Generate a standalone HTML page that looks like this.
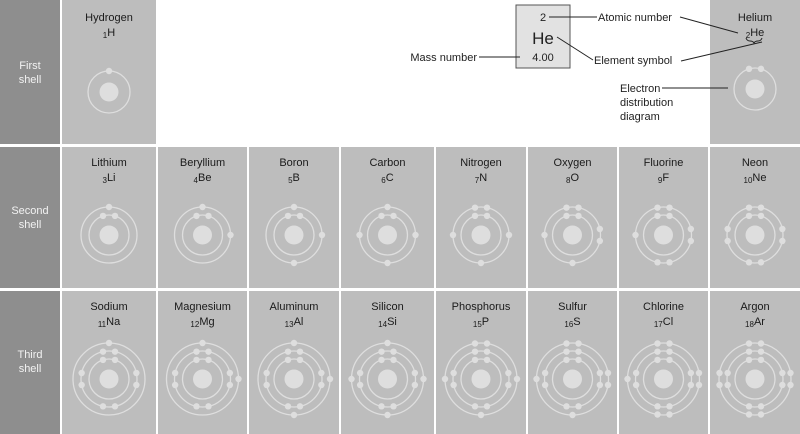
<!DOCTYPE html>
<html><head><meta charset="utf-8"><style>
html,body{margin:0;padding:0;background:#fff;}
svg{display:block;font-family:"Liberation Sans",sans-serif;}
</style></head><body>
<svg id="s" width="800" height="434" viewBox="0 0 800 434" xmlns="http://www.w3.org/2000/svg">
<rect x="0" y="0" width="800" height="434" fill="#fff"/>
<rect x="0" y="0" width="60" height="144" fill="#8e8e8e"/>
<rect x="0" y="147" width="60" height="141" fill="#8e8e8e"/>
<rect x="0" y="291" width="60" height="143" fill="#8e8e8e"/>
<g fill="#f2f2f2" font-size="11" text-anchor="middle">
<text x="30" y="69">First</text><text x="30" y="83">shell</text>
<text x="30" y="214">Second</text><text x="30" y="228">shell</text>
<text x="30" y="358">Third</text><text x="30" y="372">shell</text>
</g>
<g id="cells"></g>
<rect x="516" y="5" width="54" height="63" fill="#e2e2e2" stroke="#555" stroke-width="1"/>
<g fill="#222" text-anchor="middle">
<text x="543" y="21" font-size="11">2</text>
<text x="543" y="44" font-size="17">He</text>
<text x="543" y="61" font-size="11">4.00</text>
</g>
<g stroke="#222" stroke-width="1" fill="none">
<line x1="549" y1="17" x2="597" y2="17"/>
<line x1="680" y1="17" x2="738" y2="33"/>
<line x1="557" y1="37" x2="593" y2="60"/>
<line x1="681" y1="61" x2="762" y2="42"/>
<line x1="479" y1="57" x2="520" y2="57"/>
<line x1="662" y1="88" x2="728" y2="88"/>
<path d="M746 38 q1 3 4 3 q3 0 4 2 q1 -2 4 -2 q3 0 4 -3"/>
</g>
<g fill="#222" font-size="11">
<text x="598" y="21">Atomic number</text>
<text x="594" y="64">Element symbol</text>
<text x="477" y="61" text-anchor="end">Mass number</text>
<text x="620" y="92">Electron</text>
<text x="620" y="106">distribution</text>
<text x="620" y="120">diagram</text>
</g>
</svg>
<script>
var NS="http://www.w3.org/2000/svg",g=document.getElementById('cells');
function el(t,a,p){var e=document.createElementNS(NS,t);for(var k in a)e.setAttribute(k,a[k]);(p||g).appendChild(e);return e;}
var cols=[[62,156],[158,247],[249,339],[341,434],[436,526],[528,617],[619,708],[710,800]];
var rows=[[0,144],[147,288],[291,434]];
var data=[
[["Hydrogen","1","H",[1]],null,null,null,null,null,null,["Helium","2","He",[2]]],
[["Lithium","3","Li",[2,1]],["Beryllium","4","Be",[2,2]],["Boron","5","B",[2,3]],["Carbon","6","C",[2,4]],["Nitrogen","7","N",[2,5]],["Oxygen","8","O",[2,6]],["Fluorine","9","F",[2,7]],["Neon","10","Ne",[2,8]]],
[["Sodium","11","Na",[2,8,1]],["Magnesium","12","Mg",[2,8,2]],["Aluminum","13","Al",[2,8,3]],["Silicon","14","Si",[2,8,4]],["Phosphorus","15","P",[2,8,5]],["Sulfur","16","S",[2,8,6]],["Chlorine","17","Cl",[2,8,7]],["Argon","18","Ar",[2,8,8]]]];
var atomY=[92,235,379],nameY=[21,166,310];
var C="#dedede";
for(var r=0;r<3;r++)for(var c=0;c<8;c++){
 var d=data[r][c];if(!d)continue;
 var x0=cols[c][0],x1=cols[c][1],y0=rows[r][0],y1=rows[r][1];
 el('rect',{x:x0,y:y0,width:x1-x0,height:y1-y0,fill:"#bdbdbd"});
 var cx=(x0+x1)/2,cy=atomY[r];
 var t=el('text',{x:cx,y:nameY[r],'text-anchor':'middle','font-size':11,fill:'#1a1a1a'});t.textContent=d[0];
 var s=el('text',{x:cx,y:nameY[r]+15,'text-anchor':'middle','font-size':11,fill:'#1a1a1a'});
 var sub=el('tspan',{'font-size':8,dy:2},s);sub.textContent=d[1];
 var sy=el('tspan',{dy:-2},s);sy.textContent=d[2];
 if(r==0&&c==7){cx=755;cy=89;}
 el('circle',{cx:cx,cy:cy,r:9.5,fill:C});
 var sh=d[3];
 for(var i=0;i<sh.length;i++){
  var R=[20,28,36][i]+(r==0?1:0);
  el('circle',{cx:cx,cy:cy,r:R,fill:'none',stroke:C,'stroke-width':1.3});
  var n=sh[i],pos=[];
  if(i==0){ if(n==1)pos.push([0,0]); else {pos.push([0,-1]);pos.push([0,1]);} }
  else{
   var cnt=[0,0,0,0];
   for(var k=0;k<n;k++)cnt[k%4]++;
   for(var q=0;q<4;q++){ if(cnt[q]==1)pos.push([q,0]); else if(cnt[q]==2){pos.push([q,-1]);pos.push([q,1]);} }
  }
  pos.forEach(function(p){
   var off=p[1]*6,h=Math.sqrt(R*R-off*off),ex,ey;
   if(p[0]==0){ex=cx+off;ey=cy-h;}else if(p[0]==1){ex=cx+h;ey=cy+off;}
   else if(p[0]==2){ex=cx+off;ey=cy+h;}else{ex=cx-h;ey=cy+off;}
   el('circle',{cx:ex,cy:ey,r:3.2,fill:C});
  });
 }
}
</script>
</body></html>
